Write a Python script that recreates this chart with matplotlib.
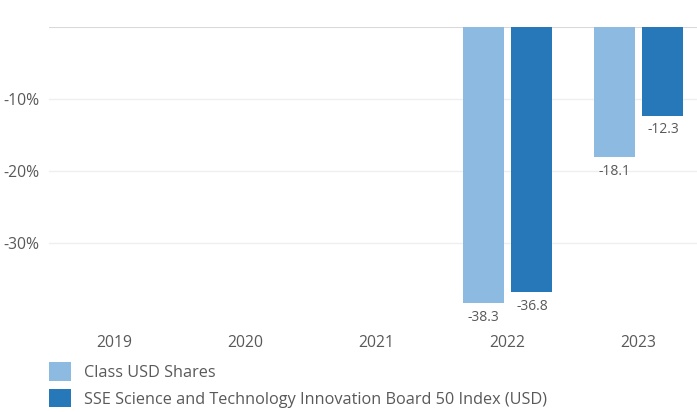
import matplotlib
matplotlib.use("Agg")
import matplotlib.pyplot as plt
from matplotlib.patches import Patch
import numpy as np

plt.rcParams['font.family'] = ['Open Sans', 'DejaVu Sans']

years = ["2019", "2020", "2021", "2022", "2023"]
class_usd = [None, None, None, -38.3, -18.1]
index_usd = [None, None, None, -36.8, -12.3]
series_names = ["Class USD Shares",
                "SSE Science and Technology Innovation Board 50 Index (USD)"]
yticks = [-10, -20, -30]
ytick_labels = ["-10%", "-20%", "-30%"]

c_light = "#8CBAE0"
c_dark = "#2778B9"
txt = "#595959"

W, H = 697, 412
fig = plt.figure(figsize=(W / 100, H / 100), dpi=100)
ax = fig.add_axes([49 / W, 1 - 320 / H, 655 / W, (320 - 27) / H])

x = np.arange(len(years))
bw = 0.313
off = 0.187
for vals, dx, col in [(class_usd, -off, c_light), (index_usd, off, c_dark)]:
    for xi, v in zip(x, vals):
        if v is None:
            continue
        ax.bar(xi + dx, v, width=bw, color=col, zorder=2)
        ax.annotate(f"{v:.1f}", (xi + dx, v), xytext=(0, -5),
                    textcoords="offset points", ha="center", va="top",
                    fontsize=10, color=txt)

ax.set_xlim(-0.5, len(years) - 0.5)
ax.set_ylim(-40.7, 0)
ax.set_yticks(yticks)
ax.set_yticklabels(ytick_labels)
ax.set_xticks(x)
ax.set_xticklabels(years)
ax.tick_params(axis="both", length=0, labelsize=11.3, colors=txt)
ax.tick_params(axis="x", pad=11)
ax.tick_params(axis="y", pad=7)
ax.grid(axis="y", color="#efefef", linewidth=1, zorder=0)
ax.axhline(0, color="#d9d9d9", linewidth=1.5, zorder=1)
for s in ax.spines.values():
    s.set_visible(False)

handles = [Patch(facecolor=c_light), Patch(facecolor=c_dark)]
fig.legend(handles, series_names, loc="upper left",
           bbox_to_anchor=(49 / W, 1 - 362 / H), frameon=False,
           fontsize=11.7, labelcolor=txt, handlelength=1.38, handleheight=1.38,
           handletextpad=0.8, labelspacing=0.5, borderaxespad=0, borderpad=0)

fig.savefig("out.png", dpi=100)
